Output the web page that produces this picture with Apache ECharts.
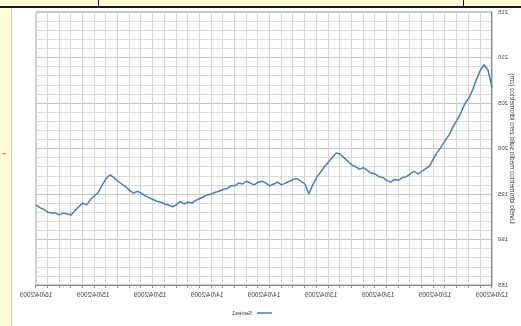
<!DOCTYPE html>
<html>
<head>
<meta charset="utf-8">
<script src="https://cdn.jsdelivr.net/npm/echarts@6/dist/echarts.min.js"></script>
<style>
  html, body { margin: 0; padding: 0; background: #ffffff; }
  #page { position: relative; width: 521px; height: 326px; overflow: hidden; background: #ffffff; }
  #mirror { position: absolute; left: 0; top: 0; width: 521px; height: 326px; transform: scaleX(-1); }
  #chart { position: absolute; left: 0; top: 0; width: 521px; height: 326px; }
  .sheet { position: absolute; background: #fffbd2; }
  .rule { position: absolute; background: #1a1a1a; }
</style>
</head>
<body>
<div id="page">
  <div id="mirror"><div id="chart"></div></div>
  <div class="sheet" style="left:0;top:0;width:11px;height:326px;border-right:1px solid #c9c9c9;"></div>
  <div class="sheet" style="left:0;top:0;width:521px;height:6px;"></div>
  <div class="rule" style="left:0;top:6px;width:521px;height:2px;"></div>
  <div class="rule" style="left:98px;top:0;width:1px;height:7px;"></div>
  <div class="rule" style="left:463px;top:0;width:1px;height:7px;"></div>
  <div style="position:absolute;left:0;top:149px;font:7px sans-serif;color:#222;">&#8594;</div>
</div>
<script>
// Date labels shown under the axis, evenly spread over the whole period
const dateLabels = ['12/04/2009', '12/04/2009', '13/04/2009', '13/04/2009', '14/04/2009',
                    '14/04/2009', '15/04/2009', '15/04/2009', '16/04/2009'];

// Level readings, in order
const series1 = [
  206.7, 208.6, 209.2, 208.6, 207.6, 206.4, 205.5, 204.9, 203.9, 203.1,
  202.4, 201.5, 200.9, 200.2, 199.6, 198.9, 198.1, 197.8, 197.5, 197.2,
  197.5, 197.2, 196.9, 196.8, 196.5, 196.6, 196.3, 196.5, 196.8, 196.9,
  197.2, 197.3, 197.6, 197.9, 197.7, 198.0, 198.2, 198.6, 199.0, 199.4,
  199.5, 199.0, 198.5, 198.0, 197.4, 196.8, 196.0, 195.0, 196.1, 196.4,
  196.7, 196.6, 196.4, 196.2, 196.0, 196.3, 196.1, 195.9, 196.2, 196.4,
  196.3, 196.0, 196.2, 196.4, 196.1, 196.2, 195.9, 195.9, 195.6, 195.5,
  195.3, 195.2, 195.0, 194.9, 194.7, 194.5, 194.3, 194.0, 194.1, 193.9,
  194.2, 193.8, 193.6, 193.8, 193.9, 194.1, 194.2, 194.4, 194.6, 194.8,
  195.1, 195.3, 195.1, 195.4, 195.8, 196.1, 196.4, 196.8, 197.1, 196.7,
  196.0, 195.2, 194.8, 194.4, 193.8, 194.0, 193.6, 193.2, 192.7, 192.8,
  192.9, 192.7, 192.9, 192.9, 193.0, 193.3, 193.5, 193.8
];
const categories = series1.map((_, i) => i);

const chart = echarts.init(document.getElementById('chart'), null, { renderer: 'canvas' });
chart.setOption({
  animation: false,
  backgroundColor: 'transparent',
  grid: {
    left: 29, right: 36, top: 12, bottom: 41, show: true,
    borderColor: '#9a9a9a', borderWidth: 1, outerBoundsMode: 'none', containLabel: false
  },
  legend: {
    show: true, bottom: 5, left: 244, icon: 'path://M0,0 L10,0 L10,1 L0,1 Z',
    itemWidth: 15, itemHeight: 2, itemGap: 3,
    textStyle: { fontSize: 6, color: '#333', fontFamily: 'Liberation Sans' },
    data: ['Series1']
  },
  xAxis: [{
    // reading axis: one grid column every 3 readings
    type: 'category', data: categories, boundaryGap: false,
    axisLine: { lineStyle: { color: '#8a8a8a' } },
    axisTick: { show: true, interval: 2, length: 3, lineStyle: { color: '#8a8a8a' } },
    axisLabel: { show: false },
    splitLine: { show: true, interval: 2, lineStyle: { color: '#d4d4d4', width: 1 } }
  }, {
    // date label axis
    type: 'value', min: 0, max: dateLabels.length - 1, interval: 1, position: 'bottom',
    axisLine: { show: false }, axisTick: { show: false }, splitLine: { show: false },
    axisLabel: {
      margin: 7, fontSize: 6.5, color: '#444', fontFamily: 'Liberation Sans',
      showMinLabel: true, showMaxLabel: true, hideOverlap: false,
      formatter: (v) => dateLabels[Math.round(v)] || ''
    }
  }],
  yAxis: {
    type: 'value', min: 185, max: 215, interval: 5,
    name: 'Livello idrometrico medio sullo zero idrometrico (cm)', nameLocation: 'middle', nameGap: 16, nameRotate: 90,
    nameMoveOverlap: false,
    nameTextStyle: { fontSize: 6.5, color: '#333', fontFamily: 'Liberation Sans' },
    axisLine: { show: true, lineStyle: { color: '#8a8a8a' } },
    axisTick: { show: false },
    axisLabel: { fontSize: 6, color: '#444', margin: 6, fontFamily: 'Liberation Sans' },
    splitLine: { show: true, lineStyle: { color: '#c4c4c4', width: 1 } },
    minorTick: { show: false, splitNumber: 5 },
    minorSplitLine: { show: true, lineStyle: { color: '#dadada', width: 1 } }
  },
  series: [{
    name: 'Series1', type: 'line', xAxisIndex: 0, data: series1, showSymbol: false, symbol: 'none',
    lineStyle: { color: '#4a7eb5', width: 1.5 }, itemStyle: { color: '#4a7eb5' }
  }]
});
</script>
</body>
</html>
